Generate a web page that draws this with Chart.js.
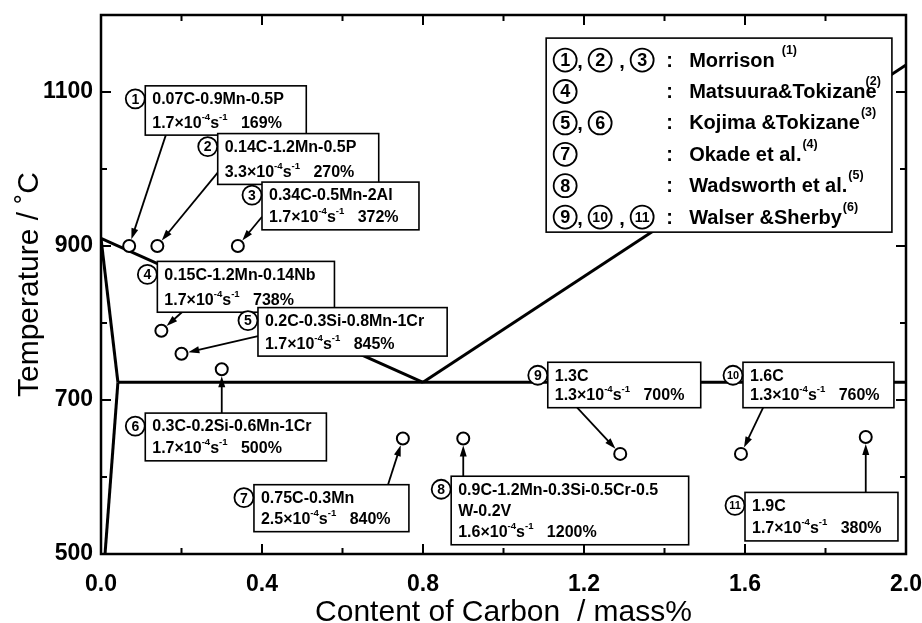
<!DOCTYPE html>
<html>
<head>
<meta charset="utf-8">
<script src="https://cdn.jsdelivr.net/npm/chart.js@4.4.1/dist/chart.umd.min.js"></script>
<style>
  html, body { margin: 0; padding: 0; background: #fff; }
  canvas { display: block; }
</style>
</head>
<body>
<canvas id="phaseChart" width="922" height="623"></canvas>
<script>
// specimens (circled numbers in the figure)
const alloyNo = [1, 2, 3, 4, 5, 6, 7, 8, 9, 10, 11];
const carbonContent = [0.07, 0.14, 0.34, 0.15, 0.2, 0.3, 0.75, 0.9, 1.29, 1.59, 1.9];
const testTemp = [900, 900, 900, 790, 760, 740, 650, 650, 630, 630, 652];
const compositions = [
  '0.07C-0.9Mn-0.5P', '0.14C-1.2Mn-0.5P', '0.34C-0.5Mn-2Al', '0.15C-1.2Mn-0.14Nb',
  '0.2C-0.3Si-0.8Mn-1Cr', '0.3C-0.2Si-0.6Mn-1Cr', '0.75C-0.3Mn',
  '0.9C-1.2Mn-0.3Si-0.5Cr-0.5\nW-0.2V', '1.3C', '1.6C', '1.9C'
];
const strainRates = ['1.7', '3.3', '1.7', '1.7', '1.7', '1.7', '2.5', '1.6', '1.3', '1.3', '1.7'];
const elongations = [169, 270, 372, 738, 845, 500, 840, 1200, 700, 760, 380];

// Fe-C diagram boundaries, [mass% C, deg C]
const gosLine = [[0, 910], [0.042, 723]];
const pqLine = [[0.042, 723], [0.01, 500]];
const a3Line = [[0, 910], [0.8, 723]];
const a1Line = [[0.042, 723], [2.0, 723]];
const acmLine = [[0.8, 723], [2.0, 1135]];

// references
const refNos = [[1, 2, 3], [4], [5, 6], [7], [8], [9, 10, 11]];
const refAuthors = ['Morrison', 'Matsuura&Tokizane', 'Kojima &Tokizane', 'Okade et al.', 'Wadsworth et al.', 'Walser &Sherby'];
const refMarks = ['(1)', '(2)', '(3)', '(4)', '(5)', '(6)'];

const xTickLabels = ['0.0', '0.4', '0.8', '1.2', '1.6', '2.0'];
const yTickLabels = ['500', '700', '900', '1100'];

// label layout, in axis units: [x left, T top, x right, T bottom]
const labelBoxes = [
  [0.11, 1108, 0.51, 1044], [0.29, 1046, 0.69, 980], [0.40, 983, 0.79, 921],
  [0.14, 880, 0.58, 814], [0.39, 820, 0.86, 757], [0.11, 683, 0.56, 621],
  [0.38, 590, 0.765, 529], [0.87, 601, 1.46, 512], [1.11, 749, 1.49, 690],
  [1.595, 749, 1.97, 690], [1.60, 580, 1.98, 517]
];
const arrowFrom = [
  [0.161, 1044], [0.291, 996], [0.40, 938], [0.201, 814], [0.39, 783], [0.3, 683],
  [0.713, 590], [0.9, 601], [1.183, 690], [1.645, 690], [1.9, 580]
];
const legendBox = [1.106, 1170, 1.965, 918];

const FAMILY = "'Liberation Sans', Arial, Helvetica, sans-serif";
Chart.defaults.font.family = FAMILY;
Chart.defaults.color = '#000';

const toXY = arr => arr.map(p => ({ x: p[0], y: p[1] }));
const boundary = arr => ({
  data: toXY(arr), showLine: true, borderColor: '#000', borderWidth: 3,
  pointRadius: 0, fill: false, tension: 0
});

function drawRich(ctx, x, y, segs, size) {
  segs.forEach(s => {
    const fs = s.sup ? size * 0.6 : size;
    ctx.font = `bold ${fs}px ${FAMILY}`;
    ctx.fillText(s.t, x, s.sup ? y - size * 0.38 : y);
    x += ctx.measureText(s.t).width;
  });
  return x;
}

function circledNo(ctx, cx, cy, r, n, size) {
  ctx.beginPath();
  ctx.arc(cx, cy, r, 0, Math.PI * 2);
  ctx.fillStyle = '#fff';
  ctx.fill();
  ctx.lineWidth = 1.8;
  ctx.strokeStyle = '#000';
  ctx.stroke();
  const s = String(n);
  ctx.fillStyle = '#000';
  ctx.font = `bold ${s.length > 1 ? size * 0.78 : size}px ${FAMILY}`;
  ctx.textAlign = 'center';
  ctx.fillText(s, cx, cy + 1);
  ctx.textAlign = 'left';
}

function drawArrow(ctx, x0, y0, cx, cy, gap) {
  const a = Math.atan2(cy - y0, cx - x0);
  const x1 = cx - Math.cos(a) * gap, y1 = cy - Math.sin(a) * gap;
  ctx.strokeStyle = '#000';
  ctx.fillStyle = '#000';
  ctx.lineWidth = 1.8;
  ctx.beginPath();
  ctx.moveTo(x0, y0);
  ctx.lineTo(x1 - Math.cos(a) * 6, y1 - Math.sin(a) * 6);
  ctx.stroke();
  ctx.beginPath();
  ctx.moveTo(x1, y1);
  ctx.lineTo(x1 - Math.cos(a) * 11 + Math.sin(a) * 3.5, y1 - Math.sin(a) * 11 - Math.cos(a) * 3.5);
  ctx.lineTo(x1 - Math.cos(a) * 11 - Math.sin(a) * 3.5, y1 - Math.sin(a) * 11 + Math.cos(a) * 3.5);
  ctx.closePath();
  ctx.fill();
}

const figureExtras = {
  id: 'figureExtras',
  afterDatasetsDraw(chart) {
    const { ctx, scales: { x, y } } = chart;
    const px = v => x.getPixelForValue(v);
    const py = t => y.getPixelForValue(t);
    ctx.save();
    ctx.textBaseline = 'middle';
    ctx.textAlign = 'left';

    labelBoxes.forEach((b, i) => {
      const l = px(b[0]), t = py(b[1]), r = px(b[2]), bt = py(b[3]);
      drawArrow(ctx, px(arrowFrom[i][0]), py(arrowFrom[i][1]), px(carbonContent[i]), py(testTemp[i]), 7);
      ctx.fillStyle = '#fff';
      ctx.fillRect(l, t, r - l, bt - t);
      ctx.lineWidth = 1.6;
      ctx.strokeStyle = '#000';
      ctx.strokeRect(l, t, r - l, bt - t);

      const lines = compositions[i].split('\n');
      const n = lines.length + 1;
      const y0 = t + 14, y1 = bt - 12;
      const gap = (y1 - y0) / (n - 1);
      ctx.fillStyle = '#000';
      ctx.font = `bold 16px ${FAMILY}`;
      lines.forEach((s, k) => ctx.fillText(s, l + 7, y0 + k * gap));
      drawRich(ctx, l + 7, y1, [
        { t: strainRates[i] + '\u00d710' }, { t: '-4', sup: true }, { t: 's' }, { t: '-1', sup: true },
        { t: '   ' + elongations[i] + '%' }
      ], 16);
      circledNo(ctx, l - 10, y0 - 1, 9.5, alloyNo[i], 14);
    });

    // reference list
    const l = px(legendBox[0]), t = py(legendBox[1]), r = px(legendBox[2]), b = py(legendBox[3]);
    ctx.fillStyle = '#fff';
    ctx.fillRect(l, t, r - l, b - t);
    ctx.lineWidth = 1.6;
    ctx.strokeStyle = '#000';
    ctx.strokeRect(l, t, r - l, b - t);
    const circleX = [19, 54, 96], commaX = [31, 73], supDx = [7, -11, 1, 1, 1, 1];
    refNos.forEach((nums, k) => {
      const cy = t + 22 + k * 31.4;
      nums.forEach((n, j) => {
        circledNo(ctx, l + circleX[j], cy, 11.5, n, 18);
        if (j > 0) {
          ctx.font = `bold 20px ${FAMILY}`;
          ctx.fillText(',', l + commaX[j - 1], cy + 2);
        }
      });
      ctx.fillStyle = '#000';
      ctx.font = `bold 20px ${FAMILY}`;
      ctx.fillText(':', l + 120, cy + 1);
      ctx.fillText(refAuthors[k], l + 143, cy + 1);
      const w = ctx.measureText(refAuthors[k]).width;
      ctx.font = `bold 12.5px ${FAMILY}`;
      ctx.fillText(refMarks[k], l + 143 + w + supDx[k], cy - 10);
    });
    ctx.restore();
  },
  afterDraw(chart) {
    const { ctx, chartArea: a, scales: { x, y } } = chart;
    ctx.save();
    ctx.strokeStyle = '#000';
    ctx.lineWidth = 2;
    ctx.beginPath();
    x.ticks.forEach(tk => {
      if (tk.value <= 0.001 || tk.value >= 1.999) return;
      const len = tk.label !== '' ? 10 : 6;
      const p = x.getPixelForValue(tk.value);
      ctx.moveTo(p, a.bottom); ctx.lineTo(p, a.bottom - len);
      ctx.moveTo(p, a.top); ctx.lineTo(p, a.top + len);
    });
    y.ticks.forEach(tk => {
      if (tk.value <= 500.1 || tk.value >= 1199) return;
      const len = tk.label !== '' ? 10 : 6;
      const p = y.getPixelForValue(tk.value);
      ctx.moveTo(a.left, p); ctx.lineTo(a.left + len, p);
      ctx.moveTo(a.right, p); ctx.lineTo(a.right - len, p);
    });
    ctx.stroke();
    ctx.lineWidth = 2.5;
    ctx.strokeRect(a.left, a.top, a.right - a.left, a.bottom - a.top);
    ctx.restore();
  }
};

const ctx = document.getElementById('phaseChart').getContext('2d');
const myChart = new Chart(ctx, {
  type: 'scatter',
  data: {
    datasets: [
      {
        data: carbonContent.map((c, i) => ({ x: c, y: testTemp[i] })),
        pointRadius: 6, pointBackgroundColor: '#fff', pointBorderColor: '#000',
        pointBorderWidth: 2, showLine: false
      },
      boundary(gosLine), boundary(pqLine), boundary(a3Line), boundary(a1Line), boundary(acmLine)
    ]
  },
  options: {
    responsive: false,
    animation: false,
    events: [],
    layout: { padding: { top: 15, right: 16, left: 0, bottom: 0 } },
    plugins: { legend: { display: false }, tooltip: { enabled: false } },
    scales: {
      x: {
        type: 'linear', min: 0, max: 2,
        grid: { display: false },
        border: { display: false },
        ticks: {
          stepSize: 0.2, autoSkip: false, maxRotation: 0, padding: 9,
          font: { size: 23, weight: 'bold' },
          callback: v => xTickLabels.includes(v.toFixed(1)) ? v.toFixed(1) : ''
        },
        title: {
          display: true, text: 'Content of Carbon  / mass%',
          font: { size: 30, lineHeight: 0.7 }, padding: { top: 0, bottom: 0 }
        },
        afterFit: s => { s.height = 69; s.paddingLeft = 0; s.paddingRight = 0; }
      },
      y: {
        type: 'linear', min: 500, max: 1200,
        grid: { display: false },
        border: { display: false },
        ticks: {
          stepSize: 100, autoSkip: false, padding: 0,
          font: { size: 23, weight: 'bold' },
          callback: v => yTickLabels.includes(String(Math.round(v))) ? String(Math.round(v)) : ''
        },
        title: {
          display: true, text: 'Temperature / \u02daC',
          font: { size: 30 }, padding: { top: 12, bottom: 0 }
        },
        afterFit: s => { s.width = 101; s.paddingTop = 0; s.paddingBottom = 0; }
      }
    }
  },
  plugins: [figureExtras]
});
</script>
</body>
</html>
